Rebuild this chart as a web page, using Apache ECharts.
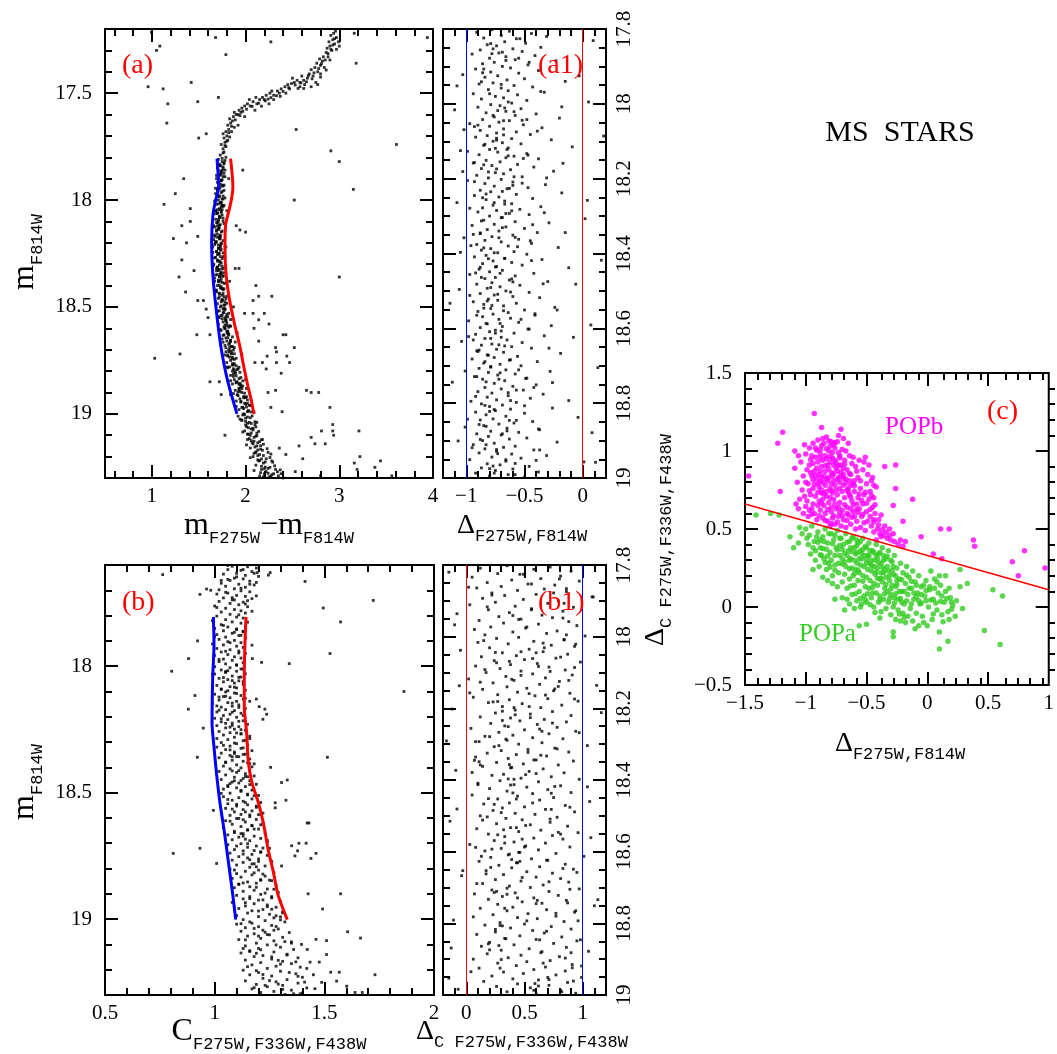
<!DOCTYPE html>
<html><head><meta charset="utf-8">
<script src="https://cdn.jsdelivr.net/npm/echarts@6/dist/echarts.min.js"></script>
<style>html,body{margin:0;padding:0;background:#fff}#c{width:1057px;height:1054px}</style>
</head><body><div id="c"></div>
<script>
// ---------------- DATA ----------------
// Panel (a): colour-magnitude diagram m_F814W vs m_F275W-m_F814W
const aMS = [1.76,17.78,1.73,17.79,1.79,17.80,1.71,17.81,1.75,17.82,1.77,17.83,1.73,17.84,1.70,17.85,1.78,17.86,
1.74,17.87,1.72,17.88,1.76,17.89,1.69,17.9,1.74,17.91,1.71,17.92,1.77,17.93,1.73,17.94,1.70,17.95,1.75,17.96,1.68,17.97,1.72,17.98,1.78,17.99,1.71,18.0,1.74,18.01,1.69,18.02,1.76,18.03,1.72,18.04,1.67,18.05,1.70,18.06,1.75,18.07,1.73,18.08,1.68,18.09,1.71,18.10,1.77,18.11,1.66,18.12,1.72,18.13,1.69,18.14,1.74,18.15,1.70,18.16,1.67,18.17,1.73,18.18,1.76,18.19,1.68,18.2,1.71,18.21,1.65,18.22,1.74,18.23,1.69,18.24,1.72,18.25,1.78,18.26,1.67,18.27,1.70,18.28,1.73,18.29,1.66,18.3,1.75,18.31,1.69,18.32,1.71,18.33,1.77,18.34,1.68,18.35,1.72,18.36,1.74,18.37,1.67,18.38,1.79,18.39,1.70,18.40,1.73,18.41,1.76,18.42,1.69,18.43,1.72,18.44,1.80,18.45,1.71,18.46,1.75,18.47,1.68,18.48,1.78,18.49,1.73,18.50,1.76,18.51,1.70,18.52,1.82,18.53,1.74,18.54,1.72,18.55,1.79,18.56,1.76,18.57,1.71,18.58,1.84,18.59,1.78,18.60,1.74,18.61,1.81,18.62,1.77,18.63,1.86,18.64,1.75,18.65,1.80,18.66,1.83,18.67,1.78,18.68,1.88,18.69,1.82,18.70,1.79,18.71,1.85,18.72,1.81,18.73,1.90,18.74,1.84,18.75,1.80,18.76,1.87,18.77,1.83,18.78,1.92,18.79,1.86,18.80,1.89,18.81,1.84,18.82,1.95,18.83,1.88,18.84,1.91,18.85,1.86,18.86,1.97,18.87,1.93,18.88,1.89,18.89,1.96,18.90,1.91,18.91,2.01,18.92,1.94,18.93,1.90,18.94,1.99,18.95,2.04,18.96,1.96,18.97,1.93,18.98,2.02,18.99,1.98,19.00,2.07,19.01,2.00,19.02,1.96,19.03,2.04,19.04,2.10,19.05,2.01,19.06,2.06,19.07,1.99,19.08,2.12,19.09,2.05,19.10,2.09,19.11,2.02,19.12,2.15,19.13,2.08,19.14,2.12,19.15,2.05,19.16,2.18,19.17,2.11,19.18,2.15,19.19,2.08,19.20,2.22,19.21,2.14,19.22,2.19,19.23,2.11,19.24,2.26,19.25,2.17,19.26,2.22,19.27,2.30,19.28,2.15,19.29,2.25,19.295,2.35,19.29,2.20,19.28,
1.75,17.805,1.72,17.835,1.74,17.865,1.71,17.895,1.73,17.925,1.70,17.955,1.72,17.985,1.74,18.015,1.70,18.045,1.72,18.075,1.69,18.105,1.71,18.135,1.73,18.165,1.69,18.195,1.71,18.225,1.70,18.255,1.72,18.285,1.70,18.315,1.73,18.345,1.71,18.375,1.74,18.405,1.72,18.435,1.75,18.465,1.74,18.495,1.77,18.525,1.75,18.555,1.78,18.585,1.80,18.615,1.79,18.645,1.82,18.675,1.84,18.705,1.83,18.735,1.86,18.765,1.88,18.795,1.87,18.825,1.90,18.855,1.93,18.885,1.92,18.915,1.95,18.945,1.98,18.975,1.97,19.005,2.00,19.035,2.03,19.065,2.02,19.095,2.06,19.125,2.10,19.155,2.09,19.185,2.13,19.215,2.17,19.245,2.16,19.275,2.20,19.295,
1.78,17.815,1.76,17.845,1.77,17.875,1.75,17.905,1.76,17.935,1.74,17.965,1.76,17.995,1.75,18.025,1.74,18.055,1.76,18.085,1.73,18.115,1.75,18.145,1.72,18.175,1.74,18.205,1.73,18.235,1.76,18.265,1.74,18.295,1.72,18.325,1.76,18.355,1.75,18.385,1.77,18.415,1.75,18.445,1.78,18.475,1.77,18.505,1.80,18.535,1.79,18.565,1.82,18.595,1.81,18.625,1.84,18.655,1.86,18.685,1.85,18.715,1.88,18.745,1.90,18.775,1.89,18.805,1.93,18.835,1.95,18.865,1.94,18.895,1.98,18.925,2.00,18.955,2.03,18.985,2.02,19.015,2.06,19.045,2.08,19.075,2.11,19.105,2.13,19.135,2.16,19.165,2.19,19.195,2.21,19.225,2.24,19.255,2.28,19.285,
1.70,17.825,1.69,17.885,1.68,17.945,1.67,18.005,1.66,18.065,1.65,18.125,1.66,18.185,1.65,18.245,1.66,18.305,1.67,18.365,1.68,18.425,1.70,18.485,1.71,18.545,1.73,18.605,1.76,18.665,1.78,18.725,1.81,18.785,1.84,18.845,1.87,18.905,1.90,18.965,1.94,19.025,1.97,19.085,2.01,19.145,2.05,19.205,2.09,19.265,
1.82,17.9,1.80,18.05,1.79,18.22,1.83,18.38,1.87,18.5,1.91,18.62,1.96,18.72,2.0,18.84,2.06,18.94,2.12,19.04,2.18,19.12,2.24,19.18,2.28,19.22,2.32,19.26,2.38,19.28,2.40,19.3];
const aMS2 = [1.72,18.453,1.79,18.461,1.70,17.917,1.75,17.931,1.86,18.772,1.80,18.781,1.67,18.208,1.73,18.214,2.05,18.961,1.97,18.969,1.76,17.853,1.71,17.861,1.83,18.588,1.77,18.594,1.69,18.331,1.74,18.338,1.73,18.044,1.68,18.051,1.92,18.897,1.99,18.903,1.72,18.119,1.67,18.126,1.85,18.684,1.79,18.691,1.78,18.512,1.72,18.518,1.70,17.973,1.76,17.981,1.68,18.268,1.75,18.274,1.94,18.806,1.87,18.813,1.71,18.382,1.77,18.389,2.02,18.935,1.95,18.942,1.74,18.057,1.69,18.064,1.82,18.627,1.76,18.633,
1.73,17.884,1.78,17.891,1.67,18.163,1.73,18.169,1.88,18.719,1.81,18.726,1.74,18.476,1.80,18.483,1.70,18.349,1.76,18.356,2.03,18.987,2.09,18.992,1.69,18.241,1.76,18.247,1.78,18.553,1.84,18.559,1.77,17.826,1.72,17.833,1.84,18.658,1.89,18.664,1.71,18.092,1.76,18.099,1.97,18.846,1.90,18.852,1.75,18.414,1.69,18.421,1.72,17.948,1.77,17.955,1.93,18.782,1.87,18.789,1.68,18.195,1.74,18.201,1.75,18.539,1.81,18.546,1.70,18.313,1.77,18.319,1.95,18.874,2.01,18.881,1.71,18.018,1.77,18.025,
2.10,19.037,2.02,19.044,2.14,19.082,2.06,19.089,2.17,19.121,2.09,19.128,2.23,19.163,2.13,19.169,2.26,19.204,2.17,19.211,2.31,19.243,2.21,19.249,2.34,19.271,2.24,19.278,2.05,19.018,2.11,19.061,2.19,19.142,2.27,19.188,2.29,19.226,2.37,19.262,2.19,19.295,2.12,19.102,2.08,19.067,2.16,19.149,
1.99,19.003,1.92,19.011,2.00,19.052,2.03,19.095,2.07,19.135,2.11,19.178,2.15,19.219,2.20,19.257,2.27,19.292,2.04,19.116,1.96,19.029,2.13,19.195,
1.78,18.602,1.71,18.137,1.86,18.743,1.70,18.286,2.01,18.968,1.75,17.862,1.76,18.437,1.82,18.711,1.70,18.174,1.79,18.565,1.73,18.011,1.90,18.822,1.73,18.357,1.74,17.907,1.81,18.644,1.71,18.226,1.98,18.919,1.77,18.491,1.72,18.083,1.83,18.689,
1.69,18.146,1.72,18.398,1.94,18.857,1.75,17.995,1.76,18.527,1.72,18.304,1.88,18.765,1.70,18.061,1.81,18.613,2.02,18.951,1.71,18.251,1.73,17.839,1.75,18.468,1.86,18.736,1.73,18.379,1.70,18.108,1.96,18.882,1.80,18.576,1.74,18.031,1.84,18.662,
1.75,18.323,1.91,18.793,1.72,18.182,1.78,18.509,1.71,17.941,1.74,18.413,2.06,18.991,1.82,18.631,1.73,18.264,1.93,18.862,1.70,18.122,1.80,18.587,1.74,18.345,1.74,17.878,1.87,18.702,1.75,18.045,1.77,18.452,2.00,18.924,1.73,18.218,1.79,18.546];
const aSGB = [1.76,17.76,1.74,17.74,1.78,17.73,1.77,17.71,1.80,17.70,1.79,17.68,1.82,17.67,1.76,17.69,1.81,17.65,1.84,17.64,1.83,17.62,1.87,17.61,1.86,17.63,1.90,17.60,1.88,17.59,1.93,17.58,1.92,17.60,1.96,17.57,1.99,17.56,1.95,17.59,2.02,17.55,2.05,17.56,2.08,17.54,2.04,17.53,2.12,17.55,2.15,17.53,2.11,17.52,2.18,17.52,2.22,17.51,2.20,17.53,2.26,17.50,2.30,17.51,2.28,17.49,2.34,17.49,2.38,17.48,2.36,17.50,2.42,17.47,2.47,17.48,2.45,17.46,2.52,17.45,2.55,17.44,2.50,17.43,2.58,17.45,2.62,17.44,2.60,17.42,2.66,17.43,2.68,17.41,2.72,17.42,2.70,17.39,2.74,17.38,2.77,17.40,2.76,17.36,2.80,17.37,2.79,17.34,2.83,17.33,2.82,17.35,2.86,17.31,2.88,17.33,2.87,17.29,2.90,17.28,2.92,17.30,2.89,17.26,2.93,17.25,2.95,17.27,2.91,17.23,2.94,17.22,2.97,17.24,2.96,17.21,2.99,17.26,3.00,17.28,2.75,17.45,2.77,17.46,2.63,17.46,2.58,17.47,2.80,17.41,2.84,17.38,2.70,17.47,2.10,17.58,1.99,17.61,1.92,17.65,2.3,17.53,2.25,17.55,2.43,17.50,1.79,17.75,1.81,17.72,1.85,17.68,1.88,17.66,
2.01,17.575,2.07,17.562,2.14,17.547,2.21,17.536,2.27,17.521,2.33,17.512,2.40,17.492,2.46,17.474,2.53,17.462,2.59,17.452,2.65,17.447,2.71,17.433,2.73,17.405,2.78,17.385,2.81,17.362,2.85,17.345,2.88,17.315,2.91,17.295,2.93,17.275,2.95,17.245,1.94,17.605,1.89,17.625,1.85,17.655,1.82,17.685,1.80,17.725,1.78,17.745,1.97,17.585,2.17,17.561,2.24,17.528,2.37,17.515,2.49,17.455,2.56,17.478,2.67,17.418,2.62,17.478,2.80,17.425,2.86,17.392,2.97,17.295,2.90,17.345,1.83,17.705,1.77,17.775];
const aField = [0.996,17.216,1.05,17.30,1.085,17.28,0.96,17.47,1.12,17.48,1.17,17.55,1.16,17.64,1.42,17.45,1.49,17.54,1.68,17.24,1.79,17.32,1.71,17.52,1.50,17.71,1.58,17.69,2.27,17.26,3.16,17.22,3.18,17.36,3.94,17.24,2.54,17.67,2.91,17.77,3.0,17.82,3.61,17.74,3.15,17.95,2.52,18.0,1.97,17.86,1.34,17.9,1.25,17.97,1.13,18.02,1.41,18.04,1.32,18.12,1.41,18.10,1.23,18.18,1.37,18.2,1.49,18.17,1.32,18.28,1.45,18.33,1.29,18.36,1.36,18.43,3.0,18.36,1.90,18.12,1.94,18.14,2.0,18.15,1.89,18.32,1.93,18.32,2.11,18.40,2.14,18.45,2.28,18.45,2.08,18.47,1.99,18.53,2.08,18.53,2.20,18.53,2.14,18.56,2.25,18.58,2.09,18.60,2.40,18.63,2.43,18.63,2.14,18.66,2.32,18.69,2.52,18.69,2.33,18.71,2.44,18.73,2.47,18.76,2.10,18.76,2.18,18.76,2.23,18.73,2.33,18.76,2.22,18.79,2.38,18.81,2.65,18.89,2.7,18.9,2.78,18.9,2.24,18.9,2.32,18.89,2.27,18.97,2.39,18.99,2.90,18.97,1.48,18.63,1.62,18.63,1.30,18.72,1.03,18.74,1.62,18.85,1.72,18.85,1.74,18.91,1.84,18.91,1.78,19.10,1.55,18.47,1.58,18.51,1.49,18.47,1.6,18.55,2.93,19.05,2.81,19.08,2.70,19.11,2.74,19.14,2.85,19.14,2.93,19.08,3.21,19.08,2.94,19.10,2.57,19.15,2.61,19.21,3.16,19.23,3.22,19.20,3.44,19.22,3.38,19.25,3.19,19.26,2.53,19.27,2.80,19.29,3.56,19.29,2.43,19.19,2.36,19.16];
const aBlueX = [1.695,1.713,1.681,1.652,1.638,1.652,1.688,1.734,1.805,1.908];
const aBlueY = [17.806,17.939,18.0,18.068,18.196,18.357,18.517,18.678,18.839,19.0];
const aRedX = [1.840,1.865,1.848,1.812,1.787,1.780,1.794,1.830,1.883,1.936,1.979,2.025,2.060,2.089];
const aRedY = [17.806,17.939,18.0,18.068,18.116,18.228,18.357,18.469,18.582,18.678,18.775,18.871,18.935,19.0];

// Panel (a1): verticalised colour Δ_F275W,F814W
const a1Pts = [-0.78,17.802,-0.63,17.806,-0.91,17.809,-0.44,17.812,-0.70,17.817,-0.31,17.82,-0.85,17.824,-0.57,17.826,0.09,17.831,-0.67,17.834,-0.49,17.838,
-0.82,17.842,-0.74,17.845,-0.36,17.849,-0.60,17.853,-0.88,17.856,-0.52,17.86,-0.72,17.864,-0.95,17.867,-0.41,17.871,-0.66,17.874,-0.80,17.878,
-0.58,17.882,-0.23,17.885,-0.76,17.889,-0.86,17.893,-0.47,17.896,-0.69,17.9,-0.62,17.904,-0.92,17.907,-0.38,17.911,-0.79,17.915,-0.55,17.918,
-1.03,17.922,-0.73,17.925,-0.84,17.929,-0.50,17.933,-0.65,17.936,-0.15,17.94,-0.77,17.944,-0.89,17.947,-0.59,17.951,-0.43,17.955,-0.70,17.958,
-0.81,17.962,-0.64,17.965,-0.33,17.969,-0.94,17.973,-0.56,17.976,-0.75,17.98,-0.68,17.984,-0.87,17.987,-0.48,17.991,0.05,17.995,-0.61,17.998,
-0.79,18.002,-0.71,18.005,-0.90,18.009,-0.53,18.013,-1.10,18.016,-0.66,18.02,-0.83,18.024,-0.40,18.027,-0.58,18.031,-0.76,18.035,-0.20,18.038,
-0.86,18.042,-0.63,18.045,-0.72,18.049,-0.97,18.053,-0.51,18.056,-0.80,18.06,-0.35,18.064,-0.68,18.067,-0.88,18.071,-0.57,18.075,-0.74,18.078,
-0.45,18.082,-0.82,18.085,-0.92,18.089,-0.61,18.093,-0.27,18.096,-0.77,18.1,-0.69,18.104,-0.53,18.107,-0.85,18.111,-0.09,18.115,-0.64,18.118,
-0.80,18.122,-1.05,18.125,-0.73,18.129,-0.48,18.133,-0.89,18.136,-0.59,18.14,-0.66,18.144,-0.38,18.147,-0.83,18.151,-0.71,18.155,-0.94,18.158,
-0.56,18.162,-0.78,18.165,-0.42,18.169,-0.87,18.173,-0.62,18.176,-0.25,18.18,-0.75,18.184,-0.68,18.187,-0.91,18.191,-0.52,18.195,-0.81,18.198,
-0.70,18.202,-0.99,18.205,-0.60,18.209,-0.84,18.213,-0.32,18.216,-0.76,18.22,-0.47,18.224,-0.65,18.227,-0.88,18.231,-0.79,18.235,-0.18,18.238,
-0.57,18.242,-0.93,18.245,-0.72,18.249,-0.43,18.253,-0.83,18.256,-0.67,18.26,-1.08,18.264,-0.61,18.267,-0.77,18.271,-0.36,18.275,-0.86,18.278,
-0.54,18.282,-0.74,18.285,-0.90,18.289,-0.63,18.293,-0.46,18.296,-0.80,18.3,-0.69,18.304,0.02,18.307,-0.85,18.311,-0.58,18.315,-0.29,18.318,
-0.76,18.322,-0.95,18.325,-0.66,18.329,-0.50,18.333,-0.82,18.336,-0.72,18.34,-0.39,18.344,-0.88,18.347,-0.60,18.351,-0.78,18.355,-1.02,18.358,
-0.55,18.362,-0.84,18.365,-0.70,18.369,-0.44,18.373,-0.91,18.376,-0.64,18.38,-0.21,18.384,-0.79,18.387,-0.87,18.391,-0.59,18.395,-0.73,18.398,
-0.48,18.402,-0.83,18.405,-0.93,18.409,-0.67,18.413,-0.35,18.416,-0.77,18.42,-0.61,18.424,-0.86,18.427,-0.52,18.431,-0.74,18.435,-0.12,18.438,
-0.89,18.442,-0.69,18.445,-0.80,18.449,-0.42,18.453,-0.97,18.456,-0.58,18.46,-0.75,18.464,-0.84,18.467,-0.63,18.471,-0.30,18.475,-0.78,18.478,
-0.91,18.482,-0.54,18.485,-0.71,18.489,-0.82,18.493,-1.06,18.496,-0.66,18.5,-0.46,18.504,-0.88,18.507,-0.76,18.511,-0.60,18.515,-0.37,18.518,
-0.81,18.522,-0.73,18.525,-0.94,18.529,-0.57,18.533,-0.85,18.536,-0.68,18.54,-0.24,18.544,-0.79,18.547,-0.50,18.551,-0.90,18.555,-0.64,18.558,
-0.77,18.562,-0.41,18.565,-0.86,18.569,-0.62,18.573,-0.72,18.576,-0.98,18.58,-0.55,18.584,-0.83,18.587,0.07,18.591,-0.69,18.595,-0.88,18.598,
-0.47,18.602,-0.75,18.605,-0.80,18.609,-0.59,18.613,-0.92,18.616,-0.33,18.62,-0.70,18.624,-0.84,18.627,-0.65,18.631,-1.04,18.635,-0.52,18.638,
-0.78,18.642,-0.87,18.645,-0.61,18.649,-0.44,18.653,-0.74,18.656,-0.91,18.66,-0.68,18.664,-0.19,18.667,-0.82,18.671,-0.56,18.675,-0.76,18.678,
-0.95,18.682,-0.63,18.685,-0.39,18.689,-0.85,18.693,-0.71,18.696,-0.53,18.7,-0.79,18.704,-0.89,18.707,-0.66,18.711,-0.28,18.715,-0.81,18.718,
-0.58,18.722,-0.73,18.725,-0.93,18.729,-0.48,18.733,-0.86,18.736,-0.67,18.74,-1.12,18.744,-0.76,18.747,-0.40,18.751,-0.60,18.755,-0.84,18.758,
-0.70,18.762,-0.51,18.765,-0.90,18.769,-0.78,18.773,-0.34,18.776,-0.64,18.78,-0.82,18.784,-0.45,18.787,-0.74,18.791,-0.96,18.795,-0.57,18.798,
-0.87,18.802,-0.69,18.805,-0.80,18.809,-0.26,18.813,-0.62,18.816,-0.75,18.82,-0.92,18.824,-0.50,18.827,-0.83,18.831,-0.66,18.835,-0.04,18.838,
-0.77,18.842,-0.88,18.845,-0.43,18.849,-0.59,18.853,-0.72,18.856,-0.85,18.86,-1.01,18.864,-0.65,18.867,-0.37,18.871,-0.79,18.875,-0.55,18.878,
-0.91,18.882,-0.70,18.885,-0.81,18.889,-0.48,18.893,-0.63,18.896,-0.86,18.9,-0.22,18.904,-0.76,18.907,-0.94,18.911,-0.58,18.915,-0.68,18.918,
-0.84,18.922,-0.42,18.925,-0.74,18.929,-0.89,18.933,-0.61,18.936,-0.31,18.94,-0.78,18.944,-0.53,18.947,-0.97,18.951,-0.66,18.955,0.11,18.958,
-0.82,18.962,-0.71,18.965,-0.46,18.969,-0.87,18.973,-0.60,18.976,-0.75,18.98,-0.38,18.984,-0.92,18.987,-0.64,18.991,-0.80,18.995,-0.50,18.998];
const a1Pts2 = [-0.71,18.453,-0.86,17.917,-0.64,18.772,-0.93,18.208,-0.58,18.961,-0.77,17.853,-0.82,18.588,-0.69,18.331,-0.52,18.044,-0.88,18.897,-0.75,18.119,-0.62,18.684,-0.97,18.512,-0.80,17.973,-0.67,18.268,-0.84,18.806,-0.56,18.382,-0.73,18.935,-0.90,18.057,-0.79,18.627,
-0.66,17.884,-0.85,18.163,-0.71,18.719,-0.60,18.476,-0.94,18.349,-0.76,18.987,-0.83,18.241,-0.68,18.553,-0.54,17.826,-0.89,18.658,-0.74,18.092,-0.63,18.846,-0.81,18.414,-0.70,17.948,-0.92,18.782,-0.59,18.195,-0.78,18.539,-0.87,18.313,-0.65,18.874,-0.73,18.018,
-0.46,18.602,-0.99,18.127,-0.83,18.743,-0.61,18.286,-0.77,18.968,-0.69,17.862,-0.88,18.437,-0.55,18.711,-0.74,18.174,-0.91,18.565,-0.67,18.011,-0.80,18.822,-0.58,18.357,-0.85,17.907,-0.72,18.644,-0.63,18.226,-0.95,18.919,-0.79,18.491,-0.68,18.083,-0.84,18.689,
-0.51,18.146,-0.76,18.398,-0.89,18.857,-0.64,17.995,-0.82,18.527,-0.70,18.304,-0.57,18.765,-0.93,18.061,-0.75,18.613,-0.66,18.951,-0.86,18.251,-0.79,17.839,-0.61,18.468,-0.72,18.736,-0.96,18.379,-0.84,18.108,-0.69,18.882,-0.53,18.576,-0.77,18.031,-0.90,18.662,
-0.43,18.323,-0.62,18.793,-0.81,18.182,-0.73,18.509,-0.87,17.941,-0.67,18.413,-0.58,18.991,-0.94,18.631,-0.76,18.264,-0.83,18.862,-0.65,18.122,-0.71,18.587,-0.88,18.345,-0.55,17.878,-0.79,18.702,-0.68,18.045,-0.92,18.452,-0.74,18.924,-0.60,18.218,-0.85,18.546,
-0.38,18.869,-0.47,18.137,-0.41,18.561,-0.33,18.291,-0.49,18.734,-0.36,17.967,-0.44,18.419,-0.29,18.653,-0.52,18.212,-0.40,18.953,-0.46,17.889,-0.34,18.481,-0.50,18.807,-0.39,18.073,-0.45,18.366,-0.27,18.593,-0.48,18.042,-0.42,18.758,-0.31,18.198,-0.37,18.925,
-1.05,18.397,-1.01,18.714,-1.08,17.952,-0.98,18.622,-1.03,18.181,-0.99,18.843,-1.14,18.533,-0.97,18.279,-1.02,18.069,-1.07,18.901,
-0.15,18.344,-0.08,18.624,-0.18,18.008,-0.12,18.793,-0.06,18.482,0.04,18.258,0.13,18.705,-0.03,17.925,0.16,18.418,0.08,18.879,-0.22,18.551,-0.17,18.159,0.01,18.957,0.18,18.086,-0.26,18.745,
-0.72,18.358,-0.81,18.672,-0.64,18.139,-0.76,18.817,-0.87,18.464,-0.59,18.021,-0.70,18.607,-0.83,18.911,-0.66,18.293,-0.78,17.866,-0.91,18.729,-0.62,18.503,-0.74,18.097,-0.85,18.385,-0.57,18.846,-0.69,18.234,-0.80,18.975,-0.93,18.157,-0.67,18.647,-0.75,18.436];
const a1BlueX = -1;
const a1RedX = 0;

// Panel (b): m_F814W vs C_F275W,F336W,F438W
const bMS = [1.08,17.605,1.15,17.607,1.19,17.612,1.06,17.618,1.12,17.621,1.17,17.626,1.10,17.633,1.04,17.636,1.14,17.641,1.20,17.645,1.09,17.652,1.13,17.655,1.07,17.661,1.16,17.664,1.03,17.672,1.11,17.676,1.18,17.679,1.05,17.684,1.14,17.688,1.09,17.694,1.02,17.698,
1.12,17.702,1.16,17.706,1.06,17.711,1.01,17.715,1.10,17.72,1.14,17.724,1.04,17.73,1.17,17.733,1.08,17.738,1.02,17.744,1.13,17.747,1.07,17.752,1.11,17.757,1.00,17.762,1.15,17.765,1.05,17.771,1.09,17.776,1.12,17.781,1.03,17.786,1.14,17.79,1.07,17.795,
1.01,17.802,1.10,17.806,1.13,17.81,1.05,17.816,0.99,17.82,1.08,17.825,1.12,17.83,1.03,17.836,1.14,17.84,1.06,17.845,1.00,17.851,1.10,17.855,1.04,17.86,1.13,17.864,1.08,17.87,1.01,17.875,1.11,17.879,1.05,17.885,1.14,17.889,1.02,17.894,1.09,17.898,
1.06,17.903,1.12,17.907,0.99,17.912,1.04,17.916,1.10,17.921,1.13,17.926,1.01,17.93,1.07,17.935,1.11,17.94,1.03,17.944,1.14,17.95,1.06,17.954,1.00,17.958,1.09,17.963,1.12,17.968,1.04,17.972,1.08,17.977,1.02,17.982,1.13,17.986,1.05,17.991,1.10,17.996,
1.00,18.002,1.07,18.006,1.13,18.011,1.03,18.015,1.10,18.02,1.05,18.025,1.14,18.03,0.99,18.034,1.08,18.039,1.12,18.043,1.02,18.048,1.06,18.053,1.11,18.058,1.04,18.062,1.09,18.067,1.13,18.072,1.01,18.076,1.07,18.081,1.10,18.086,1.03,18.09,1.14,18.095,
1.05,18.102,1.09,18.106,1.00,18.111,1.12,18.116,1.04,18.12,1.07,18.125,1.13,18.13,1.02,18.134,1.10,18.139,1.06,18.144,0.99,18.148,1.11,18.153,1.08,18.158,1.03,18.162,1.14,18.167,1.05,18.172,1.09,18.176,1.01,18.181,1.12,18.186,1.07,18.19,1.04,18.195,
1.10,18.202,1.00,18.206,1.06,18.211,1.13,18.216,1.03,18.22,1.08,18.225,1.15,18.23,1.01,18.235,1.11,18.239,1.05,18.244,1.09,18.249,1.14,18.253,1.02,18.258,1.07,18.263,1.12,18.267,1.04,18.272,1.16,18.277,1.09,18.281,1.01,18.286,1.06,18.29,1.13,18.295,
1.03,18.302,1.10,18.306,1.15,18.311,1.07,18.316,1.01,18.32,1.12,18.325,1.05,18.33,1.17,18.334,1.09,18.339,1.03,18.344,1.14,18.348,1.07,18.353,1.11,18.358,1.02,18.362,1.16,18.367,1.08,18.372,1.13,18.376,1.05,18.381,1.18,18.386,1.10,18.39,1.04,18.395,
1.12,18.402,1.07,18.406,1.16,18.411,1.02,18.416,1.10,18.42,1.14,18.425,1.05,18.43,1.18,18.434,1.09,18.439,1.13,18.444,1.03,18.448,1.16,18.453,1.08,18.458,1.11,18.462,1.19,18.467,1.06,18.472,1.14,18.476,1.10,18.481,1.04,18.486,1.17,18.49,1.12,18.495,
1.07,18.502,1.15,18.506,1.20,18.511,1.04,18.516,1.11,18.52,1.17,18.525,1.08,18.53,1.13,18.534,1.21,18.539,1.06,18.544,1.15,18.548,1.10,18.553,1.19,18.558,1.05,18.562,1.13,18.567,1.17,18.572,1.09,18.576,1.22,18.581,1.12,18.586,1.07,18.59,1.16,18.595,
1.10,18.602,1.19,18.606,1.05,18.611,1.14,18.616,1.22,18.62,1.08,18.625,1.17,18.63,1.12,18.634,1.04,18.639,1.20,18.644,1.15,18.648,1.09,18.653,1.23,18.658,1.13,18.662,1.06,18.667,1.18,18.672,1.11,18.676,1.21,18.681,1.08,18.686,1.16,18.69,1.24,18.695,
1.12,18.702,1.06,18.706,1.19,18.711,1.15,18.716,1.25,18.72,1.09,18.725,1.13,18.73,1.21,18.734,1.07,18.739,1.17,18.744,1.24,18.748,1.11,18.753,1.15,18.758,1.20,18.762,1.08,18.767,1.26,18.772,1.13,18.776,1.18,18.781,1.10,18.786,1.23,18.79,1.16,18.795,
1.07,18.802,1.20,18.806,1.14,18.811,1.27,18.816,1.10,18.82,1.17,18.825,1.23,18.83,1.12,18.834,1.08,18.839,1.21,18.844,1.26,18.848,1.15,18.853,1.19,18.858,1.11,18.862,1.28,18.867,1.16,18.872,1.09,18.876,1.24,18.881,1.18,18.886,1.13,18.89,1.29,18.895,
1.21,18.902,1.10,18.906,1.16,18.911,1.26,18.916,1.13,18.92,1.20,18.925,1.30,18.93,1.08,18.934,1.18,18.939,1.24,18.944,1.14,18.948,1.28,18.953,1.11,18.958,1.22,18.962,1.17,18.967,1.31,18.972,1.15,18.976,1.25,18.981,1.10,18.986,1.20,18.99,1.27,18.995,
1.13,19.002,1.23,19.006,1.32,19.011,1.17,19.016,1.10,19.02,1.26,19.025,1.20,19.03,1.14,19.034,1.29,19.039,1.22,19.044,1.12,19.048,1.34,19.053,1.18,19.058,1.25,19.062,1.15,19.067,1.31,19.072,1.21,19.076,1.11,19.081,1.27,19.086,1.35,19.09,1.19,19.095,
1.24,19.102,1.14,19.106,1.30,19.111,1.20,19.116,1.36,19.12,1.16,19.125,1.27,19.13,1.12,19.134,1.33,19.139,1.22,19.144,1.18,19.148,1.38,19.153,1.26,19.158,1.14,19.162,1.31,19.167,1.21,19.172,1.35,19.176,1.17,19.181,1.28,19.186,1.39,19.19,1.24,19.195,
1.13,19.202,1.30,19.206,1.20,19.211,1.37,19.216,1.16,19.22,1.26,19.225,1.40,19.23,1.22,19.234,1.33,19.239,1.14,19.244,1.28,19.248,1.38,19.253,1.19,19.258,1.31,19.262,1.24,19.267,1.42,19.272,1.17,19.276,1.35,19.281,1.27,19.286,1.21,19.29,1.39,19.295,1.32,19.298];
const bMS2 = [1.09,18.453,1.17,17.917,1.20,18.772,1.03,18.208,1.26,18.961,1.10,17.853,1.16,18.588,1.07,18.331,1.11,18.044,1.23,18.897,1.05,18.119,1.14,18.684,1.18,18.512,1.02,17.973,1.12,18.268,1.09,18.806,1.15,18.382,1.14,18.935,1.08,18.057,1.21,18.627,
1.00,17.884,1.11,18.163,1.22,18.719,1.06,18.476,1.13,18.349,1.28,18.987,1.07,18.241,1.19,18.553,1.15,17.826,1.09,18.658,1.03,18.092,1.25,18.846,1.08,18.414,1.11,17.948,1.17,18.782,1.13,18.195,1.14,18.539,1.04,18.313,1.19,18.874,1.06,18.018,
1.11,18.602,1.14,18.127,1.13,18.743,1.16,18.286,1.20,18.968,1.13,17.862,1.15,18.437,1.10,18.711,1.02,18.174,1.08,18.565,1.12,18.011,1.22,18.822,1.10,18.357,1.07,17.907,1.18,18.644,1.05,18.226,1.16,18.919,1.12,18.491,1.09,18.083,1.24,18.689,
1.08,18.146,1.17,18.398,1.13,18.857,1.10,17.995,1.06,18.527,1.09,18.304,1.16,18.765,1.13,18.061,1.07,18.613,1.24,18.951,1.12,18.251,1.04,17.839,1.16,18.468,1.21,18.736,1.05,18.379,1.10,18.108,1.27,18.882,1.14,18.576,1.00,18.031,1.12,18.662,
1.13,18.323,1.19,18.793,1.08,18.182,1.15,18.509,1.05,17.941,1.11,18.413,1.30,18.991,1.17,18.631,1.10,18.264,1.11,18.862,1.02,18.122,1.20,18.587,1.09,18.345,1.12,17.878,1.15,18.702,1.04,18.045,1.12,18.452,1.22,18.924,1.11,18.218,1.10,18.546,
1.18,19.037,1.27,19.044,1.14,19.082,1.32,19.089,1.21,19.121,1.16,19.128,1.29,19.163,1.37,19.169,1.19,19.204,1.34,19.211,1.25,19.243,1.41,19.249,1.18,19.271,1.31,19.278,1.12,19.018,1.24,19.061,1.33,19.142,1.15,19.188,1.38,19.226,1.23,19.262,1.36,19.295,1.28,19.102,1.20,19.067,1.26,19.149,
1.30,19.003,1.16,19.011,1.23,19.052,1.35,19.095,1.19,19.135,1.30,19.178,1.22,19.219,1.29,19.257,1.40,19.292,1.13,19.116,1.28,19.029,1.42,19.195,
1.06,17.602,1.13,17.618,1.18,17.633,1.10,17.647,1.03,17.661,1.16,17.676,1.12,17.692,1.05,17.708,1.19,17.722,1.09,17.738,1.14,17.754,1.01,17.768,1.17,17.783,1.11,17.797,1.06,17.657,1.19,17.669,1.08,17.729,1.15,17.741,
1.08,18.358,1.13,18.672,1.16,18.139,1.18,18.817,1.07,18.464,1.05,18.021,1.13,18.607,1.26,18.911,1.14,18.293,1.09,17.866,1.18,18.729,1.03,18.503,1.06,18.097,1.16,18.385,1.21,18.846,1.08,18.234,1.31,18.975,1.01,18.157,1.15,18.647,1.14,18.436];
const bField = [0.763,17.638,0.933,17.716,0.963,17.695,0.982,17.70,1.412,17.665,1.495,17.77,1.723,17.74,1.574,17.825,1.526,17.95,1.34,17.99,1.214,17.985,1.172,17.97,0.922,17.90,0.881,17.97,0.804,18.02,0.91,18.116,0.88,18.17,1.863,18.10,1.19,18.13,1.203,18.16,1.229,18.17,1.22,18.21,1.237,18.19,0.948,18.245,0.921,18.36,1.514,18.36,1.255,18.40,1.305,18.46,1.331,18.45,1.325,18.53,1.276,18.54,1.276,18.56,1.422,18.62,1.43,18.62,0.994,18.57,1.351,18.71,1.384,18.70,1.417,18.70,1.378,18.73,1.366,18.75,1.439,18.76,1.462,18.74,1.305,18.79,0.811,18.74,0.933,18.72,1.009,18.78,1.426,18.90,1.574,18.90,1.492,18.96,1.606,19.05,1.665,19.075,1.396,19.10,1.422,19.12,1.462,19.08,1.51,19.085,1.51,19.14,1.477,19.17,1.529,19.21,1.568,19.21,1.556,19.245,1.488,19.25,1.45,19.22,1.602,19.265,1.731,19.22,1.64,19.29,1.673,19.29,1.457,19.275,1.435,19.17,1.245,17.64,1.253,17.63,1.194,17.63];
const bBlueX = [0.994,0.997,0.991,0.988,0.997,1.009,1.024,1.043,1.062,1.081,1.096];
const bBlueY = [17.805,17.911,18.047,18.225,18.32,18.429,18.539,18.648,18.77,18.893,19.002];
const bRedX = [1.143,1.138,1.135,1.135,1.146,1.153,1.169,1.199,1.222,1.245,1.267,1.29,1.331];
const bRedY = [17.805,17.911,18.047,18.157,18.266,18.375,18.457,18.539,18.62,18.73,18.811,18.907,19.002];

// Panel (b1): verticalised Δ_C F275W,F336W,F438W
const b1Pts = [0.35,17.802,0.72,17.806,0.12,17.809,0.58,17.812,0.90,17.817,-0.15,17.82,0.27,17.824,0.46,17.826,0.81,17.831,0.05,17.834,0.64,17.838,
0.39,17.842,0.97,17.845,0.18,17.849,0.53,17.853,0.76,17.856,0.30,17.86,0.09,17.864,0.67,17.867,0.44,17.871,0.86,17.874,0.22,17.878,
0.60,17.882,0.33,17.885,1.08,17.889,0.14,17.893,0.49,17.896,0.79,17.9,0.25,17.904,0.70,17.907,0.03,17.911,0.42,17.915,0.92,17.918,
0.56,17.922,0.19,17.925,0.83,17.929,0.37,17.933,-0.08,17.936,0.65,17.94,0.28,17.944,0.74,17.947,0.47,17.951,0.11,17.955,0.88,17.958,
0.32,17.962,0.62,17.965,0.95,17.969,0.21,17.973,0.51,17.976,0.07,17.98,0.78,17.984,0.40,17.987,0.69,17.991,0.16,17.995,1.02,17.998,
0.45,18.002,0.26,18.005,0.84,18.009,0.58,18.013,0.10,18.016,0.36,18.02,0.73,18.024,0.93,18.027,0.20,18.031,0.54,18.035,-0.05,18.038,
0.66,18.042,0.31,18.045,0.87,18.049,0.43,18.053,0.13,18.056,0.77,18.06,0.50,18.064,0.24,18.067,0.98,18.071,0.61,18.075,0.38,18.078,
0.08,18.082,0.71,18.085,0.29,18.089,0.85,18.093,0.47,18.096,0.17,18.1,0.57,18.104,0.91,18.107,0.34,18.111,0.68,18.115,0.02,18.118,
0.41,18.122,0.80,18.125,0.23,18.129,0.63,18.133,1.12,18.136,0.35,18.14,0.52,18.144,0.14,18.147,0.75,18.151,0.44,18.155,0.89,18.158,
0.27,18.162,0.59,18.165,0.06,18.169,0.70,18.173,0.37,18.176,0.96,18.18,0.19,18.184,0.48,18.187,0.82,18.191,0.31,18.195,0.64,18.198,
-0.12,18.202,0.42,18.205,0.74,18.209,0.25,18.213,0.55,18.216,0.90,18.22,0.12,18.224,0.38,18.227,0.67,18.231,0.46,18.235,0.86,18.238,
0.21,18.242,0.61,18.245,0.33,18.249,0.78,18.253,0.04,18.256,0.50,18.26,0.94,18.264,0.28,18.267,0.71,18.271,0.40,18.275,0.16,18.278,
0.57,18.282,0.83,18.285,0.35,18.289,0.11,18.293,0.65,18.296,0.45,18.3,1.04,18.304,0.24,18.307,0.76,18.311,0.53,18.315,0.30,18.318,
0.88,18.322,0.18,18.325,0.43,18.329,0.69,18.333,0.08,18.336,0.36,18.34,0.60,18.344,0.92,18.347,0.26,18.351,0.49,18.355,0.79,18.358,
0.14,18.362,0.39,18.365,0.66,18.369,-0.09,18.373,0.54,18.376,0.84,18.38,0.32,18.384,0.22,18.387,0.73,18.391,0.47,18.395,0.97,18.398,
0.29,18.402,0.62,18.405,0.10,18.409,0.41,18.413,0.81,18.416,0.52,18.42,0.20,18.424,0.70,18.427,0.35,18.431,0.90,18.435,0.57,18.438,
0.05,18.442,0.44,18.445,0.75,18.449,0.27,18.453,0.63,18.456,1.06,18.46,0.37,18.464,0.15,18.467,0.85,18.471,0.50,18.475,0.31,18.478,
0.68,18.482,0.23,18.485,0.93,18.489,0.42,18.493,0.59,18.496,0.12,18.5,0.78,18.504,0.34,18.507,0.48,18.511,-0.14,18.515,0.72,18.518,
0.26,18.522,0.55,18.525,0.87,18.529,0.38,18.533,0.09,18.536,0.64,18.54,0.45,18.544,0.96,18.547,0.19,18.551,0.74,18.555,0.33,18.558,
0.58,18.562,0.83,18.565,0.24,18.569,0.41,18.573,0.68,18.576,0.03,18.58,0.51,18.584,0.89,18.587,0.30,18.591,0.62,18.595,0.16,18.598,
0.46,18.602,0.77,18.605,0.36,18.609,1.01,18.613,0.21,18.616,0.56,18.62,0.70,18.624,0.11,18.627,0.43,18.631,0.85,18.635,0.28,18.638,
0.63,18.642,0.39,18.645,0.92,18.649,0.17,18.653,0.52,18.656,0.74,18.66,0.32,18.664,-0.04,18.667,0.60,18.671,0.81,18.675,0.25,18.678,
0.47,18.682,0.88,18.685,0.14,18.689,0.66,18.693,0.37,18.696,0.55,18.7,0.97,18.704,0.22,18.707,0.71,18.711,0.42,18.715,0.07,18.718,
0.79,18.722,0.31,18.725,0.58,18.729,0.19,18.733,0.86,18.736,0.48,18.74,0.65,18.744,0.27,18.747,1.10,18.751,0.40,18.755,0.12,18.758,
0.69,18.762,0.35,18.765,0.93,18.769,0.53,18.773,0.23,18.776,0.77,18.78,0.44,18.784,0.61,18.787,-0.11,18.791,0.84,18.795,0.29,18.798,
0.50,18.802,0.16,18.805,0.73,18.809,0.38,18.813,0.90,18.816,0.57,18.82,0.25,18.824,0.67,18.827,0.09,18.831,0.46,18.835,0.82,18.838,
0.33,18.842,0.60,18.845,0.95,18.849,0.20,18.853,0.75,18.856,0.41,18.86,0.13,18.864,0.86,18.867,0.54,18.871,0.30,18.875,1.05,18.878,
0.64,18.882,0.18,18.885,0.47,18.889,0.80,18.893,0.36,18.896,0.06,18.9,0.72,18.904,0.52,18.907,0.27,18.911,0.91,18.915,0.43,18.918,
0.68,18.922,0.11,18.925,0.58,18.929,0.85,18.933,0.32,18.936,0.49,18.94,0.77,18.944,0.22,18.947,0.99,18.951,0.40,18.955,0.62,18.958,
0.15,18.962,0.87,18.965,0.44,18.969,0.71,18.973,0.26,18.976,0.55,18.98,-0.07,18.984,0.81,18.987,0.35,18.991,0.94,18.995,0.60,18.998];
const b1Pts2 = [0.43,18.453,0.18,17.917,0.77,18.772,0.31,18.208,0.92,18.961,0.56,17.853,0.08,18.588,0.64,18.331,0.25,18.044,0.85,18.897,0.39,18.119,0.71,18.684,0.14,18.512,0.52,17.973,0.97,18.268,0.29,18.806,0.60,18.382,0.04,18.935,0.81,18.057,0.46,18.627,
0.22,17.884,0.68,18.163,0.35,18.719,0.89,18.476,0.11,18.349,0.58,18.987,0.74,18.241,0.27,18.553,0.49,17.826,0.95,18.658,0.16,18.092,0.63,18.846,0.38,18.414,0.83,17.948,0.06,18.782,0.54,18.195,0.32,18.539,0.78,18.313,0.20,18.874,0.66,18.018,
0.45,18.602,0.12,18.127,0.87,18.743,0.34,18.286,0.59,18.968,0.02,17.862,0.73,18.437,0.26,18.711,0.93,18.174,0.48,18.565,0.15,18.011,0.69,18.822,0.37,18.357,0.84,17.907,0.21,18.644,0.55,18.226,0.99,18.919,0.30,18.491,0.62,18.083,0.09,18.689,
0.76,18.146,0.41,18.398,0.19,18.857,0.86,17.995,0.51,18.527,0.28,18.304,0.94,18.765,0.57,18.061,0.13,18.613,0.70,18.951,0.36,18.251,0.80,17.839,0.24,18.468,0.61,18.736,0.05,18.379,0.47,18.108,0.90,18.882,0.33,18.576,0.67,18.031,0.17,18.662,
0.53,18.323,0.96,18.793,0.23,18.182,0.72,18.509,0.40,17.941,0.10,18.413,0.82,18.991,0.44,18.631,0.65,18.264,0.28,18.862,0.88,18.122,0.50,18.587,0.07,18.345,0.75,17.878,0.35,18.702,0.60,18.045,0.19,18.452,0.91,18.924,0.42,18.218,0.79,18.546,
-0.13,18.869,-0.06,18.137,1.07,18.561,-0.17,18.291,1.13,18.734,-0.10,17.967,1.04,18.419,-0.03,18.653,1.16,18.212,-0.15,18.953,1.09,17.889,-0.08,18.481,
0.31,18.807,0.26,18.073,0.38,18.366,0.22,18.593,0.47,18.042,0.33,18.758,0.41,18.198,0.29,18.925,0.36,18.397,0.24,18.714,0.45,17.952,0.39,18.622,0.27,18.181,0.34,18.843,0.43,18.533,0.20,18.279,0.37,18.069,0.30,18.901,
0.58,18.344,0.69,18.624,0.84,18.008,0.52,18.793,0.73,18.482,0.63,18.258,0.89,18.705,0.56,17.925,0.76,18.418,0.65,18.879,0.81,18.551,0.54,18.159,0.71,18.957,0.93,18.086,0.60,18.745,
0.12,18.358,0.48,18.672,0.79,18.139,0.25,18.817,0.57,18.464,0.94,18.021,0.37,18.607,0.66,18.911,0.08,18.293,0.86,17.866,0.44,18.729,0.18,18.503,0.72,18.097,0.51,18.385,0.98,18.846,0.31,18.234,0.62,18.975,0.03,18.157,0.83,18.647,0.40,18.436];
const b1RedX = 0;
const b1BlueX = 1;

// Panel (c): Δ_C vs Δ_F275W,F814W chromosome map
const popB = [-1.47,0.84,-1.21,0.74,-1.23,1.05,-1.19,1.12,-0.93,1.24,-0.87,1.15,-0.71,1.14,-0.35,0.90,-0.26,0.91,-0.51,0.96,-0.26,0.76,-0.12,0.69,-0.20,0.55,-0.05,0.45,0.11,0.50,0.18,0.50,0.05,0.34,0.12,0.31,0.38,0.43,0.39,0.39,0.70,0.29,0.80,0.36,0.75,0.20,0.97,0.25,-0.28,0.65,-0.38,0.45,-0.31,0.46,-0.44,0.56,-0.45,0.83,-0.44,0.78,-1.09,0.89,-1.06,0.97,-1.01,1.04,-1.09,1.00,
-0.92,1.02,-0.88,0.98,-0.85,1.05,-0.80,1.03,-0.78,0.99,-0.83,0.95,-0.90,0.93,-0.95,0.97,-0.97,0.91,-0.87,0.90,
-0.82,0.91,-0.76,0.94,-0.72,0.97,-0.70,1.01,-0.74,1.06,-0.86,1.08,-0.93,0.87,-0.89,0.85,-0.84,0.87,-0.79,0.86,
-0.75,0.89,-0.71,0.91,-0.68,0.94,-0.66,0.88,-0.69,0.85,-0.73,0.83,-0.77,0.81,-0.81,0.83,-0.86,0.80,-0.91,0.82,
-0.95,0.84,-0.98,0.79,-0.94,0.76,-0.89,0.77,-0.84,0.78,-0.80,0.76,-0.76,0.78,-0.72,0.80,-0.67,0.82,-0.63,0.85,
-0.61,0.79,-0.65,0.76,-0.70,0.74,-0.74,0.72,-0.78,0.73,-0.83,0.71,-0.87,0.73,-0.92,0.71,-0.96,0.72,-0.99,0.68,
-0.94,0.66,-0.89,0.68,-0.85,0.65,-0.81,0.67,-0.77,0.69,-0.72,0.67,-0.68,0.70,-0.64,0.72,-0.60,0.74,-0.57,0.70,
-0.58,0.66,-0.62,0.68,-0.66,0.64,-0.70,0.62,-0.75,0.63,-0.79,0.61,-0.84,0.60,-0.88,0.62,-0.93,0.60,-0.97,0.62,
-0.91,0.56,-0.86,0.57,-0.82,0.55,-0.78,0.57,-0.73,0.58,-0.69,0.56,-0.65,0.59,-0.61,0.61,-0.56,0.63,-0.53,0.66,
-0.50,0.61,-0.54,0.58,-0.58,0.55,-0.63,0.53,-0.67,0.51,-0.71,0.52,-0.76,0.53,-0.80,0.52,-0.55,0.51,-0.59,0.50,
-0.49,0.55,-0.46,0.52,-0.51,0.49,-0.44,0.48,-0.41,0.50,-0.47,0.58,-0.43,0.60,-0.39,0.47,-0.36,0.46,-0.33,0.44,
-0.30,0.43,-0.27,0.42,-0.24,0.40,-0.35,0.52,-0.40,0.56,-0.45,0.64,-0.48,0.69,-0.52,0.72,-0.55,0.76,-0.50,0.79,
-0.47,0.74,-0.44,0.70,-0.42,0.77,-0.46,0.81,-0.49,0.85,-0.53,0.88,-0.57,0.83,-0.59,0.90,-0.62,0.92,-0.64,0.97,
-0.67,1.00,-0.61,0.96,-0.56,0.94,-0.52,0.93,-0.48,0.91,-0.58,0.87,-0.55,0.81,-0.60,0.81,-0.63,0.78,-0.66,0.75,
-0.69,0.78,-0.72,0.76,-0.75,0.75,-0.79,0.79,-0.82,0.81,-0.85,0.84,-0.88,0.87,-0.91,0.89,-0.94,0.92,-0.96,0.86,
-0.99,0.88,-1.02,0.84,-1.00,0.80,-1.03,0.75,-1.01,0.71,-1.05,0.69,-1.07,0.80,-1.04,0.93,-1.00,0.98,-0.97,1.02,
-0.94,1.05,-0.90,1.07,-0.83,1.09,-0.79,1.06,-0.76,1.02,-0.73,0.99,-0.81,1.00,-0.84,0.97,-0.86,0.94,-0.80,0.93,
-0.77,0.91,-0.74,0.87,-0.71,0.84,-0.78,0.84,-0.83,0.82,-0.87,0.83,-0.90,0.79,-0.87,0.75,-0.83,0.74,-0.80,0.70,
-0.76,0.66,-0.73,0.64,-0.79,0.64,-0.86,0.69,-0.90,0.65,-0.95,0.63,-0.98,0.58,-1.02,0.60,-1.06,0.63,-1.08,0.66,
-0.66,0.60,-0.63,0.63,-0.60,0.58,-0.52,0.54,-0.38,0.59,-0.34,0.48,-0.42,0.43,-0.28,0.47,-0.31,0.50,-0.22,0.43,
-0.20,0.39,-0.18,0.42,-0.65,1.05,-0.69,1.08,-0.73,1.10,-0.77,1.04,-0.88,1.01,-0.92,0.96,-0.69,0.89,-0.64,0.81,
-0.81,0.885,-0.77,0.855,-0.74,0.815,-0.79,0.745,-0.85,0.725,-0.88,0.805,-0.92,0.845,-0.84,0.905,-0.80,0.965,-0.75,0.925,-0.71,0.865,-0.67,0.795,-0.63,0.705,-0.68,0.655,-0.72,0.605,-0.77,0.585,-0.82,0.625,-0.87,0.665,-0.90,0.735,-0.94,0.815,
-0.96,0.945,-0.91,1.005,-0.87,1.035,-0.83,1.015,-0.78,0.955,-0.73,0.905,-0.69,0.825,-0.65,0.735,-0.61,0.655,-0.57,0.605,-0.53,0.595,-0.50,0.665,-0.56,0.725,-0.60,0.775,-0.64,0.855,-0.68,0.915,-0.72,0.955,-0.76,1.055,-0.81,1.065,-0.88,0.955,
-0.93,0.785,-0.97,0.745,-1.00,0.645,-0.95,0.595,-0.89,0.585,-0.84,0.555,-0.79,0.535,-0.74,0.545,-0.70,0.585,-0.66,0.555,-0.62,0.575,-0.58,0.625,-0.54,0.685,-0.51,0.735,-0.47,0.625,-0.44,0.545,-0.40,0.525,-0.37,0.495,-0.43,0.655,-0.46,0.715];
const popA = [-1.41,0.59,-1.29,0.60,-1.22,0.59,-1.13,0.45,-1.10,0.38,-1.05,0.51,0.54,0.11,0.62,0.07,0.47,-0.15,0.60,-0.24,0.10,-0.27,0.17,-0.22,-0.28,-0.16,-0.28,-0.19,-0.50,-0.11,-0.56,-0.12,-0.39,-0.07,0.27,0.13,0.33,0.15,0.27,0.24,0.29,-0.01,0.18,-0.08,0.10,-0.16,0.20,0.03,-0.68,-0.02,-0.76,0.05,
-1.00,0.50,-0.97,0.46,-0.95,0.52,-0.93,0.42,-0.90,0.48,-0.88,0.38,-0.86,0.45,-0.84,0.50,-0.82,0.41,-0.80,0.35,
-0.79,0.47,-0.77,0.43,-0.75,0.38,-0.74,0.49,-0.72,0.33,-0.71,0.44,-0.69,0.40,-0.68,0.29,-0.67,0.47,-0.65,0.36,
-0.64,0.42,-0.63,0.31,-0.62,0.25,-0.61,0.45,-0.60,0.38,-0.59,0.34,-0.58,0.28,-0.57,0.41,-0.56,0.22,-0.55,0.36,
-0.54,0.31,-0.53,0.44,-0.52,0.26,-0.51,0.39,-0.50,0.19,-0.49,0.33,-0.48,0.41,-0.47,0.28,-0.46,0.23,-0.45,0.36,
-0.44,0.15,-0.43,0.30,-0.42,0.40,-0.41,0.25,-0.40,0.34,-0.39,0.18,-0.38,0.28,-0.37,0.38,-0.36,0.22,-0.35,0.12,
-0.34,0.31,-0.33,0.26,-0.32,0.36,-0.31,0.17,-0.30,0.08,-0.29,0.29,-0.28,0.21,-0.27,0.33,-0.26,0.13,-0.25,0.25,
-0.24,0.05,-0.23,0.18,-0.22,0.28,-0.21,0.10,-0.20,0.22,-0.19,0.02,-0.18,0.15,-0.17,0.26,-0.16,0.08,-0.15,0.19,
-0.14,-0.01,-0.13,0.12,-0.12,0.23,-0.11,0.05,-0.10,0.16,-0.09,-0.04,-0.08,0.09,-0.07,0.20,-0.06,0.02,-0.05,0.13,
-0.04,-0.06,-0.02,0.07,-0.01,0.17,0.01,0.00,0.02,0.11,0.04,-0.08,0.05,0.05,0.06,0.18,0.08,-0.02,0.09,0.09,
0.11,0.14,0.12,-0.05,0.14,0.03,0.15,0.10,0.17,-0.03,0.19,0.06,0.21,0.01,0.23,-0.06,0.15,0.20,0.03,0.23,
-0.98,0.40,-0.96,0.34,-0.92,0.30,-0.89,0.26,-0.85,0.31,-0.83,0.24,-0.81,0.28,-0.78,0.20,-0.76,0.27,-0.73,0.22,
-0.70,0.16,-0.68,0.21,-0.66,0.12,-0.64,0.18,-0.62,0.08,-0.60,0.14,-0.58,0.04,-0.56,0.10,-0.54,0.02,-0.52,0.07,
-0.50,0.03,-0.48,0.12,-0.46,0.06,-0.44,0.00,-0.42,0.09,-0.40,0.03,-0.38,-0.03,-0.36,0.05,-0.34,-0.01,-0.32,0.03,
-0.30,-0.05,-0.28,0.00,-0.26,-0.08,-0.24,-0.02,-0.22,-0.09,-0.20,-0.04,-0.18,-0.10,-0.16,-0.06,-0.12,-0.09,-0.07,-0.12,
-0.92,0.36,-0.87,0.33,-0.83,0.37,-0.79,0.30,-0.76,0.33,-0.73,0.28,-0.70,0.31,-0.67,0.26,-0.64,0.30,-0.61,0.20,
-0.59,0.24,-0.57,0.17,-0.55,0.27,-0.53,0.20,-0.51,0.13,-0.49,0.24,-0.47,0.17,-0.45,0.09,-0.43,0.21,-0.41,0.14,
-0.39,0.07,-0.37,0.16,-0.35,0.24,-0.33,0.10,-0.31,0.20,-0.29,0.14,-0.27,0.06,-0.25,0.17,-0.23,0.10,-0.21,0.03,
-0.19,0.10,-0.17,0.04,-0.15,0.12,-0.13,0.02,-0.11,0.09,-0.09,0.14,-0.07,0.04,-0.05,0.08,-0.03,0.14,-0.01,0.04,
-0.70,0.37,-0.66,0.33,-0.63,0.38,-0.60,0.30,-0.58,0.35,-0.56,0.31,-0.53,0.37,-0.50,0.28,-0.48,0.33,-0.46,0.30,
-0.44,0.26,-0.42,0.33,-0.40,0.28,-0.38,0.22,-0.36,0.30,-0.34,0.19,-0.32,0.23,-0.30,0.30,-0.28,0.26,-0.26,0.20,
-0.62,0.44,-0.58,0.43,-0.55,0.42,-0.52,0.33,-0.50,0.38,-0.47,0.36,-0.44,0.35,-0.41,0.31,-0.39,0.35,-0.36,0.33,
-0.72,0.44,-0.76,0.46,-0.81,0.47,-0.85,0.42,-0.88,0.43,-0.91,0.45,-0.94,0.38,-0.99,0.44,-1.03,0.47,-1.06,0.41,
-0.66,0.05,-0.64,0.02,-0.60,-0.01,-0.55,0.00,-0.70,0.06,-0.74,0.13,-0.78,0.15,-0.86,0.19,-0.82,0.17,-0.94,0.24,
0.06,0.12,0.10,0.20,0.12,0.07,0.08,0.16,-0.03,-0.10,0.00,-0.12,-0.10,-0.14,0.02,0.13,0.18,0.12,0.24,0.04,
-0.58,0.395,-0.54,0.345,-0.50,0.305,-0.46,0.265,-0.42,0.225,-0.38,0.185,-0.34,0.145,-0.30,0.115,-0.26,0.085,-0.22,0.055,-0.62,0.355,-0.66,0.415,-0.70,0.275,-0.74,0.365,-0.78,0.405,-0.82,0.325,-0.86,0.375,-0.90,0.415,-0.57,0.235,-0.53,0.165,
-0.49,0.085,-0.45,0.125,-0.41,0.185,-0.37,0.255,-0.33,0.325,-0.29,0.235,-0.25,0.145,-0.21,0.175,-0.17,0.205,-0.13,0.165,-0.09,0.065,-0.05,0.025,-0.01,0.105,0.03,0.045,0.07,0.025,0.11,0.035,0.16,0.055,0.20,-0.015,0.13,-0.095,0.05,-0.045,
-0.60,0.215,-0.64,0.245,-0.68,0.345,-0.72,0.395,-0.76,0.235,-0.80,0.255,-0.84,0.285,-0.88,0.335,-0.63,0.135,-0.59,0.085,-0.55,0.055,-0.51,0.045,-0.47,0.015,-0.43,-0.035,-0.39,0.045,-0.35,0.085,-0.31,0.055,-0.27,0.025,-0.23,-0.045,-0.19,-0.065];
const cLineX = [-1.5, 1.0];
const cLineY = [0.66, 0.11];

// axis ranges, tick labels and tick steps
const aXRange = [0.5, 4],   aYRange = [17.2, 19.3];
const a1XRange = [-1.2, 0.2], a1YRange = [17.8, 19.0];
const bXRange = [0.5, 2],   bYRange = [17.6, 19.3];
const b1XRange = [-0.2, 1.2], b1YRange = [17.8, 19.0];
const cXRange = [-1.5, 1],  cYRange = [-0.5, 1.5];
const aXLabels = [1, 2, 3, 4],          aYLabels = [17.5, 18, 18.5, 19];
const a1XLabels = [-1, -0.5, 0],        a1YLabels = [17.8, 18, 18.2, 18.4, 18.6, 18.8, 19];
const bXLabels = [0.5, 1, 1.5, 2],      bYLabels = [18, 18.5, 19];
const b1XLabels = [0, 0.5, 1],          b1YLabels = [17.8, 18, 18.2, 18.4, 18.6, 18.8, 19];
const cXLabels = [-1.5, -1, -0.5, 0, 0.5, 1], cYLabels = [-0.5, 0, 0.5, 1, 1.5];

// ---------------- BUILD ----------------
const pairs = f => { const o = []; for (let i = 0; i < f.length; i += 2) o.push([f[i], f[i + 1]]); return o; };
const zipXY = (xs, ys) => xs.map((x, i) => [x, ys[i]]);
const FONT = 'Liberation Serif';
const MONO = 'Liberation Mono';
function fmt(v) { return String(Math.round(v * 100) / 100).replace('-', '\u2212'); }
function range(a, b, s) { const o = []; const n0 = Math.ceil(a / s - 1e-9), n1 = Math.floor(b / s + 1e-9); for (let n = n0; n <= n1; n++) o.push(Math.round(n * s * 1000) / 1000); return o; }
const inside = (r, v) => v > r[0] + 1e-6 && v < r[1] - 1e-6;
const isIn = (arr, v) => arr.some(m => Math.abs(m - v) < 1e-6);
const majors = (r, labels) => labels.filter(v => inside(r, v));
const minors = (r, step, labels) => range(r[0], r[1], step).filter(v => inside(r, v) && !isIn(labels, v));

const panels = [
  { rect: { left: 105, top: 29, width: 328, height: 449 }, xr: aXRange, yr: aYRange, inv: true, xl: aXLabels, yl: aYLabels, xs: 0.2, ys: 0.1, yRight: false },
  { rect: { left: 443, top: 29, width: 163, height: 449 }, xr: a1XRange, yr: a1YRange, inv: true, xl: a1XLabels, yl: a1YLabels, xs: 0.1, ys: 0.05, yRight: true },
  { rect: { left: 105, top: 565, width: 329, height: 430 }, xr: bXRange, yr: bYRange, inv: true, xl: bXLabels, yl: bYLabels, xs: 0.1, ys: 0.1, yRight: false },
  { rect: { left: 443, top: 565, width: 163, height: 430 }, xr: b1XRange, yr: b1YRange, inv: true, xl: b1XLabels, yl: b1YLabels, xs: 0.1, ys: 0.05, yRight: true },
  { rect: { left: 745, top: 373, width: 310, height: 312 }, xr: cXRange, yr: cYRange, inv: false, xl: cXLabels, yl: cYLabels, xs: 0.1, ys: 0.1, yRight: false }
];

const TICK_W = 2;
function axis(gi, r, pos, inv, ticks, len, labels) {
  const isY = pos === 'left' || pos === 'right', right = pos === 'right';
  return {
    type: 'value', gridIndex: gi, min: r[0], max: r[1], position: pos, inverse: inv, scale: true,
    axisLine: { show: false, onZero: false },
    splitLine: { show: false }, minorTick: { show: false }, minorSplitLine: { show: false },
    axisTick: { show: ticks.length > 0, inside: true, length: len, customValues: ticks, lineStyle: { color: '#000', width: TICK_W } },
    axisLabel: labels ? { show: true, customValues: labels, formatter: fmt, color: '#000', fontFamily: FONT, fontSize: 21,
      margin: isY ? (right ? 8 : 13) : 8, rotate: right ? 90 : 0 } : { show: false }
  };
}

const grids = [], xAxes = [], yAxes = [];
panels.forEach((p, i) => {
  const gM = 2 * i, gm = 2 * i + 1;
  grids.push(Object.assign({ show: true, borderColor: '#000', borderWidth: 2, backgroundColor: 'transparent', containLabel: false }, p.rect));
  grids.push(Object.assign({ show: false, containLabel: false }, p.rect));
  const xMaj = majors(p.xr, p.xl), yMaj = majors(p.yr, p.yl), xMin = minors(p.xr, p.xs, p.xl), yMin = minors(p.yr, p.ys, p.yl);
  xAxes.push(axis(gM, p.xr, 'bottom', false, xMaj, 13, p.xl));
  xAxes.push(axis(gM, p.xr, 'top', false, xMaj, 13, null));
  xAxes.push(axis(gm, p.xr, 'bottom', false, xMin, 7, null));
  xAxes.push(axis(gm, p.xr, 'top', false, xMin, 7, null));
  yAxes.push(axis(gM, p.yr, 'left', p.inv, yMaj, 13, p.yRight ? null : p.yl));
  yAxes.push(axis(gM, p.yr, 'right', p.inv, yMaj, 13, p.yRight ? p.yl : null));
  yAxes.push(axis(gm, p.yr, 'left', p.inv, yMin, 7, null));
  yAxes.push(axis(gm, p.yr, 'right', p.inv, yMin, 7, null));
});
const AX = i => 4 * i;   // data axes of panel i

const dot = (pi, data, size, color, extra) => Object.assign({ type: 'scatter', xAxisIndex: AX(pi), yAxisIndex: AX(pi), data: data, symbol: 'rect', symbolSize: size,
  itemStyle: { color: color }, silent: true, z: 2 }, extra || {});
const fid = (pi, data, color, w) => ({ type: 'line', xAxisIndex: AX(pi), yAxisIndex: AX(pi), data: data, showSymbol: false, symbol: 'none', smooth: 0.25,
  lineStyle: { color: color, width: w }, silent: true, z: 4 });
const vlines = (list) => ({ silent: true, symbol: ['none', 'none'], label: { show: false }, animation: false,
  data: list.map(l => ({ xAxis: l[0], lineStyle: { color: l[1], width: 1, type: 'solid' } })) });

const series = [
  dot(0, pairs(aMS).concat(pairs(aMS2), pairs(aSGB), pairs(aField)), 2.8, '#000'),
  fid(0, zipXY(aBlueX, aBlueY), '#0000ff', 3),
  fid(0, zipXY(aRedX, aRedY), '#ff0000', 3),
  dot(1, pairs(a1Pts).concat(pairs(a1Pts2)), 2.8, '#000', { markLine: vlines([[a1BlueX, '#0000ff'], [a1RedX, '#ff0000']]) }),
  dot(2, pairs(bMS).concat(pairs(bMS2), pairs(bField)), 2.8, '#000'),
  fid(2, zipXY(bBlueX, bBlueY), '#0000ff', 3),
  fid(2, zipXY(bRedX, bRedY), '#ff0000', 3),
  dot(3, pairs(b1Pts).concat(pairs(b1Pts2)), 2.8, '#000', { markLine: vlines([[b1RedX, '#ff0000'], [b1BlueX, '#0000ff']]) }),
  dot(4, pairs(popB), 5.5, '#ff00ff', { symbol: 'circle' }),
  dot(4, pairs(popA), 5.5, '#33cc22', { symbol: 'circle' }),
  { type: 'line', xAxisIndex: AX(4), yAxisIndex: AX(4), data: zipXY(cLineX, cLineY), showSymbol: false, symbol: 'none',
    lineStyle: { color: '#ff0000', width: 1.5 }, silent: true, z: 4 }
];

const rich = {
  M: { fontFamily: FONT, fontSize: 32, padding: [0, 0, 5, 0], verticalAlign: 'bottom', fill: '#000' },
  D: { fontFamily: FONT, fontSize: 28, padding: [0, 0, 5, 0], verticalAlign: 'bottom', fill: '#000' },
  S: { fontFamily: MONO, fontSize: 17, verticalAlign: 'bottom', fill: '#000' }
};
const title = (x, y, text, rot) => ({ type: 'text', x: x, y: y, rotation: rot ? Math.PI / 2 : 0, silent: true, z: 20,
  style: { text: text, rich: rich, align: 'center', verticalAlign: 'middle', fill: '#000' } });
const tag = (x, y, text, color, size) => ({ type: 'text', x: x, y: y, silent: true, z: 20,
  style: { text: text, fill: color, font: size + 'px "' + FONT + '"', align: 'left', verticalAlign: 'middle' } });

const graphics = [
  title(269, 528, '{M|m}{S|F275W}{M|\u2212m}{S|F814W}'),
  title(522, 528, '{D|\u0394}{S|F275W,F814W}'),
  title(269, 1034, '{M|C}{S|F275W,F336W,F438W}'),
  title(522, 1034, '{D|\u0394}{S|C F275W,F336W,F438W}'),
  title(900, 746, '{D|\u0394}{S|F275W,F814W}'),
  title(27, 252, '{M|m}{S|F814W}', true),
  title(27, 782, '{M|m}{S|F814W}', true),
  title(658, 540, '{D|\u0394}{S|C F275W,F336W,F438W}', true),
  tag(122, 66, '(a)', '#ff0000', 28),
  tag(538, 66, '(a1)', '#ff0000', 28),
  tag(122, 603, '(b)', '#ff0000', 28),
  tag(538, 603, '(b1)', '#ff0000', 28),
  tag(987, 412, '(c)', '#ff0000', 28),
  tag(885, 427, 'POPb', '#ff00ff', 25),
  tag(799, 634, 'POPa', '#33cc22', 25),
  { type: 'text', x: 900, y: 133, silent: true, style: { text: 'MS  STARS', fill: '#000', font: '30px "' + FONT + '"', align: 'center', verticalAlign: 'middle' } }
];

const chart = echarts.init(document.getElementById('c'), null, { renderer: 'canvas' });
chart.setOption({ animation: false, backgroundColor: '#fff', grid: grids, xAxis: xAxes, yAxis: yAxes, series: series, graphic: { elements: graphics } });
</script>
</body></html>
